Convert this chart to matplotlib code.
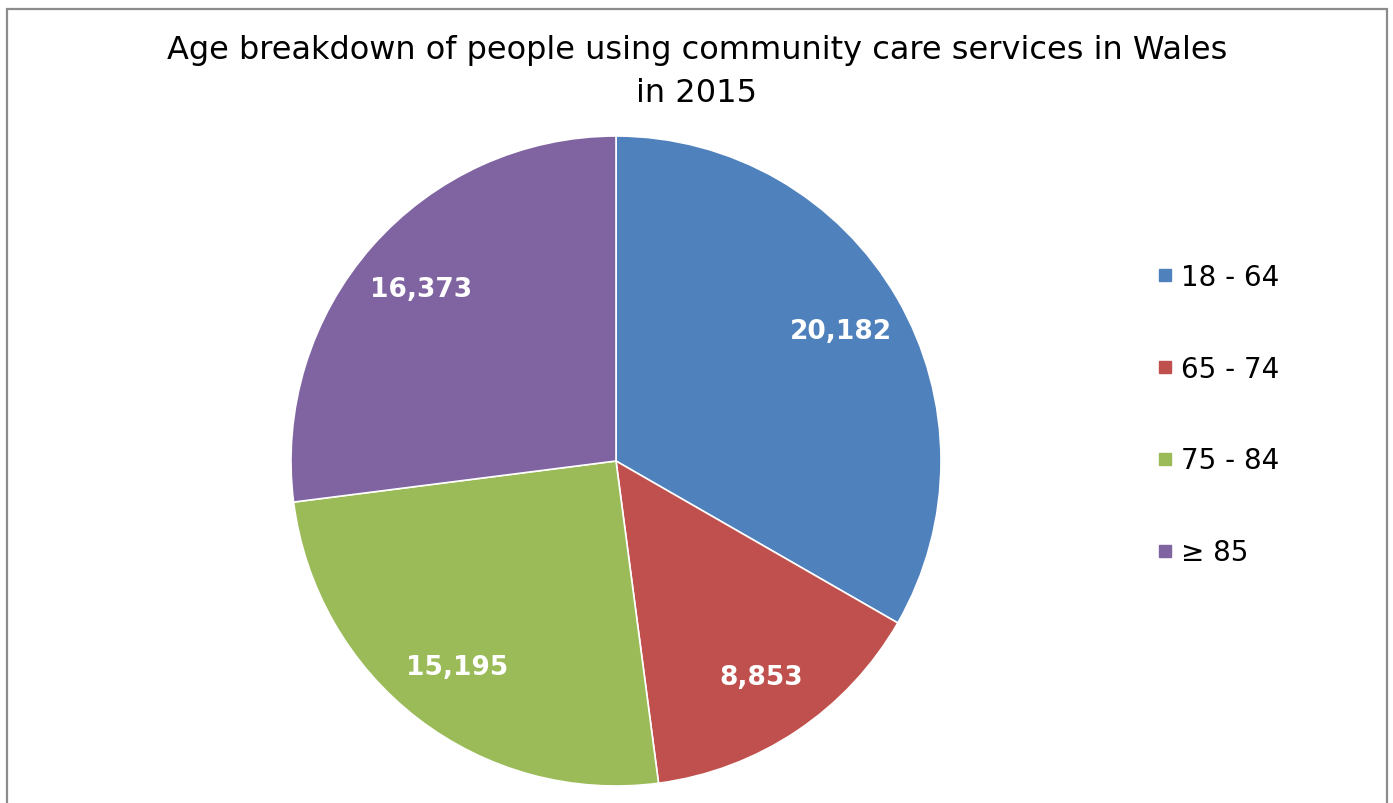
import matplotlib
matplotlib.use("Agg")
import matplotlib.pyplot as plt
from matplotlib.patches import Rectangle
from matplotlib.lines import Line2D

# Data
categories = ["18 - 64", "65 - 74", "75 - 84", "\u2265 85"]
values = [20182, 8853, 15195, 16373]
colors = ["#4F81BD", "#C0504D", "#9BBB59", "#8064A2"]

W, H = 1393, 804
fig = plt.figure(figsize=(W / 100, H / 100), dpi=100)

# outer frame (bottom edge cut off)
fig.patches.append(Rectangle((7 / W, -0.05), 1380 / W, (H - 10) / H + 0.05,
                             transform=fig.transFigure, fill=False,
                             edgecolor="#8c8c8c", linewidth=1.6))

# pie axes: center (616, 462), radius 325 px
cx, cy, r = 616, 462, 325
ax = fig.add_axes([(cx - r) / W, (H - cy - r) / H, 2 * r / W, 2 * r / H])

wedges, texts, autotexts = ax.pie(
    values, colors=colors, startangle=90, counterclock=False,
    wedgeprops=dict(edgecolor="white", linewidth=1.2),
    autopct=lambda p: "{:,}".format(int(round(p * sum(values) / 100))),
    pctdistance=0.8,
    textprops=dict(color="white", fontsize=19, fontweight="bold"))
ax.set_xlim(-1, 1)
ax.set_ylim(-1, 1)
ax.set_aspect("equal")

fig.text(697 / W, 1 - 72 / H,
         "Age breakdown of people using community care services in Wales\nin 2015",
         ha="center", va="center", fontsize=23, linespacing=1.5)

# Legend
handles = [Line2D([], [], marker="s", linestyle="none", markersize=9,
                  markerfacecolor=c, markeredgecolor=c) for c in colors]
fig.legend(handles, categories, loc="center left",
           bbox_to_anchor=(1141 / W, 1 - 415.5 / H), frameon=False,
           fontsize=20, labelspacing=2.3, handletextpad=0.25,
           handlelength=0.7, borderpad=0)

fig.savefig("out.png", dpi=100)
